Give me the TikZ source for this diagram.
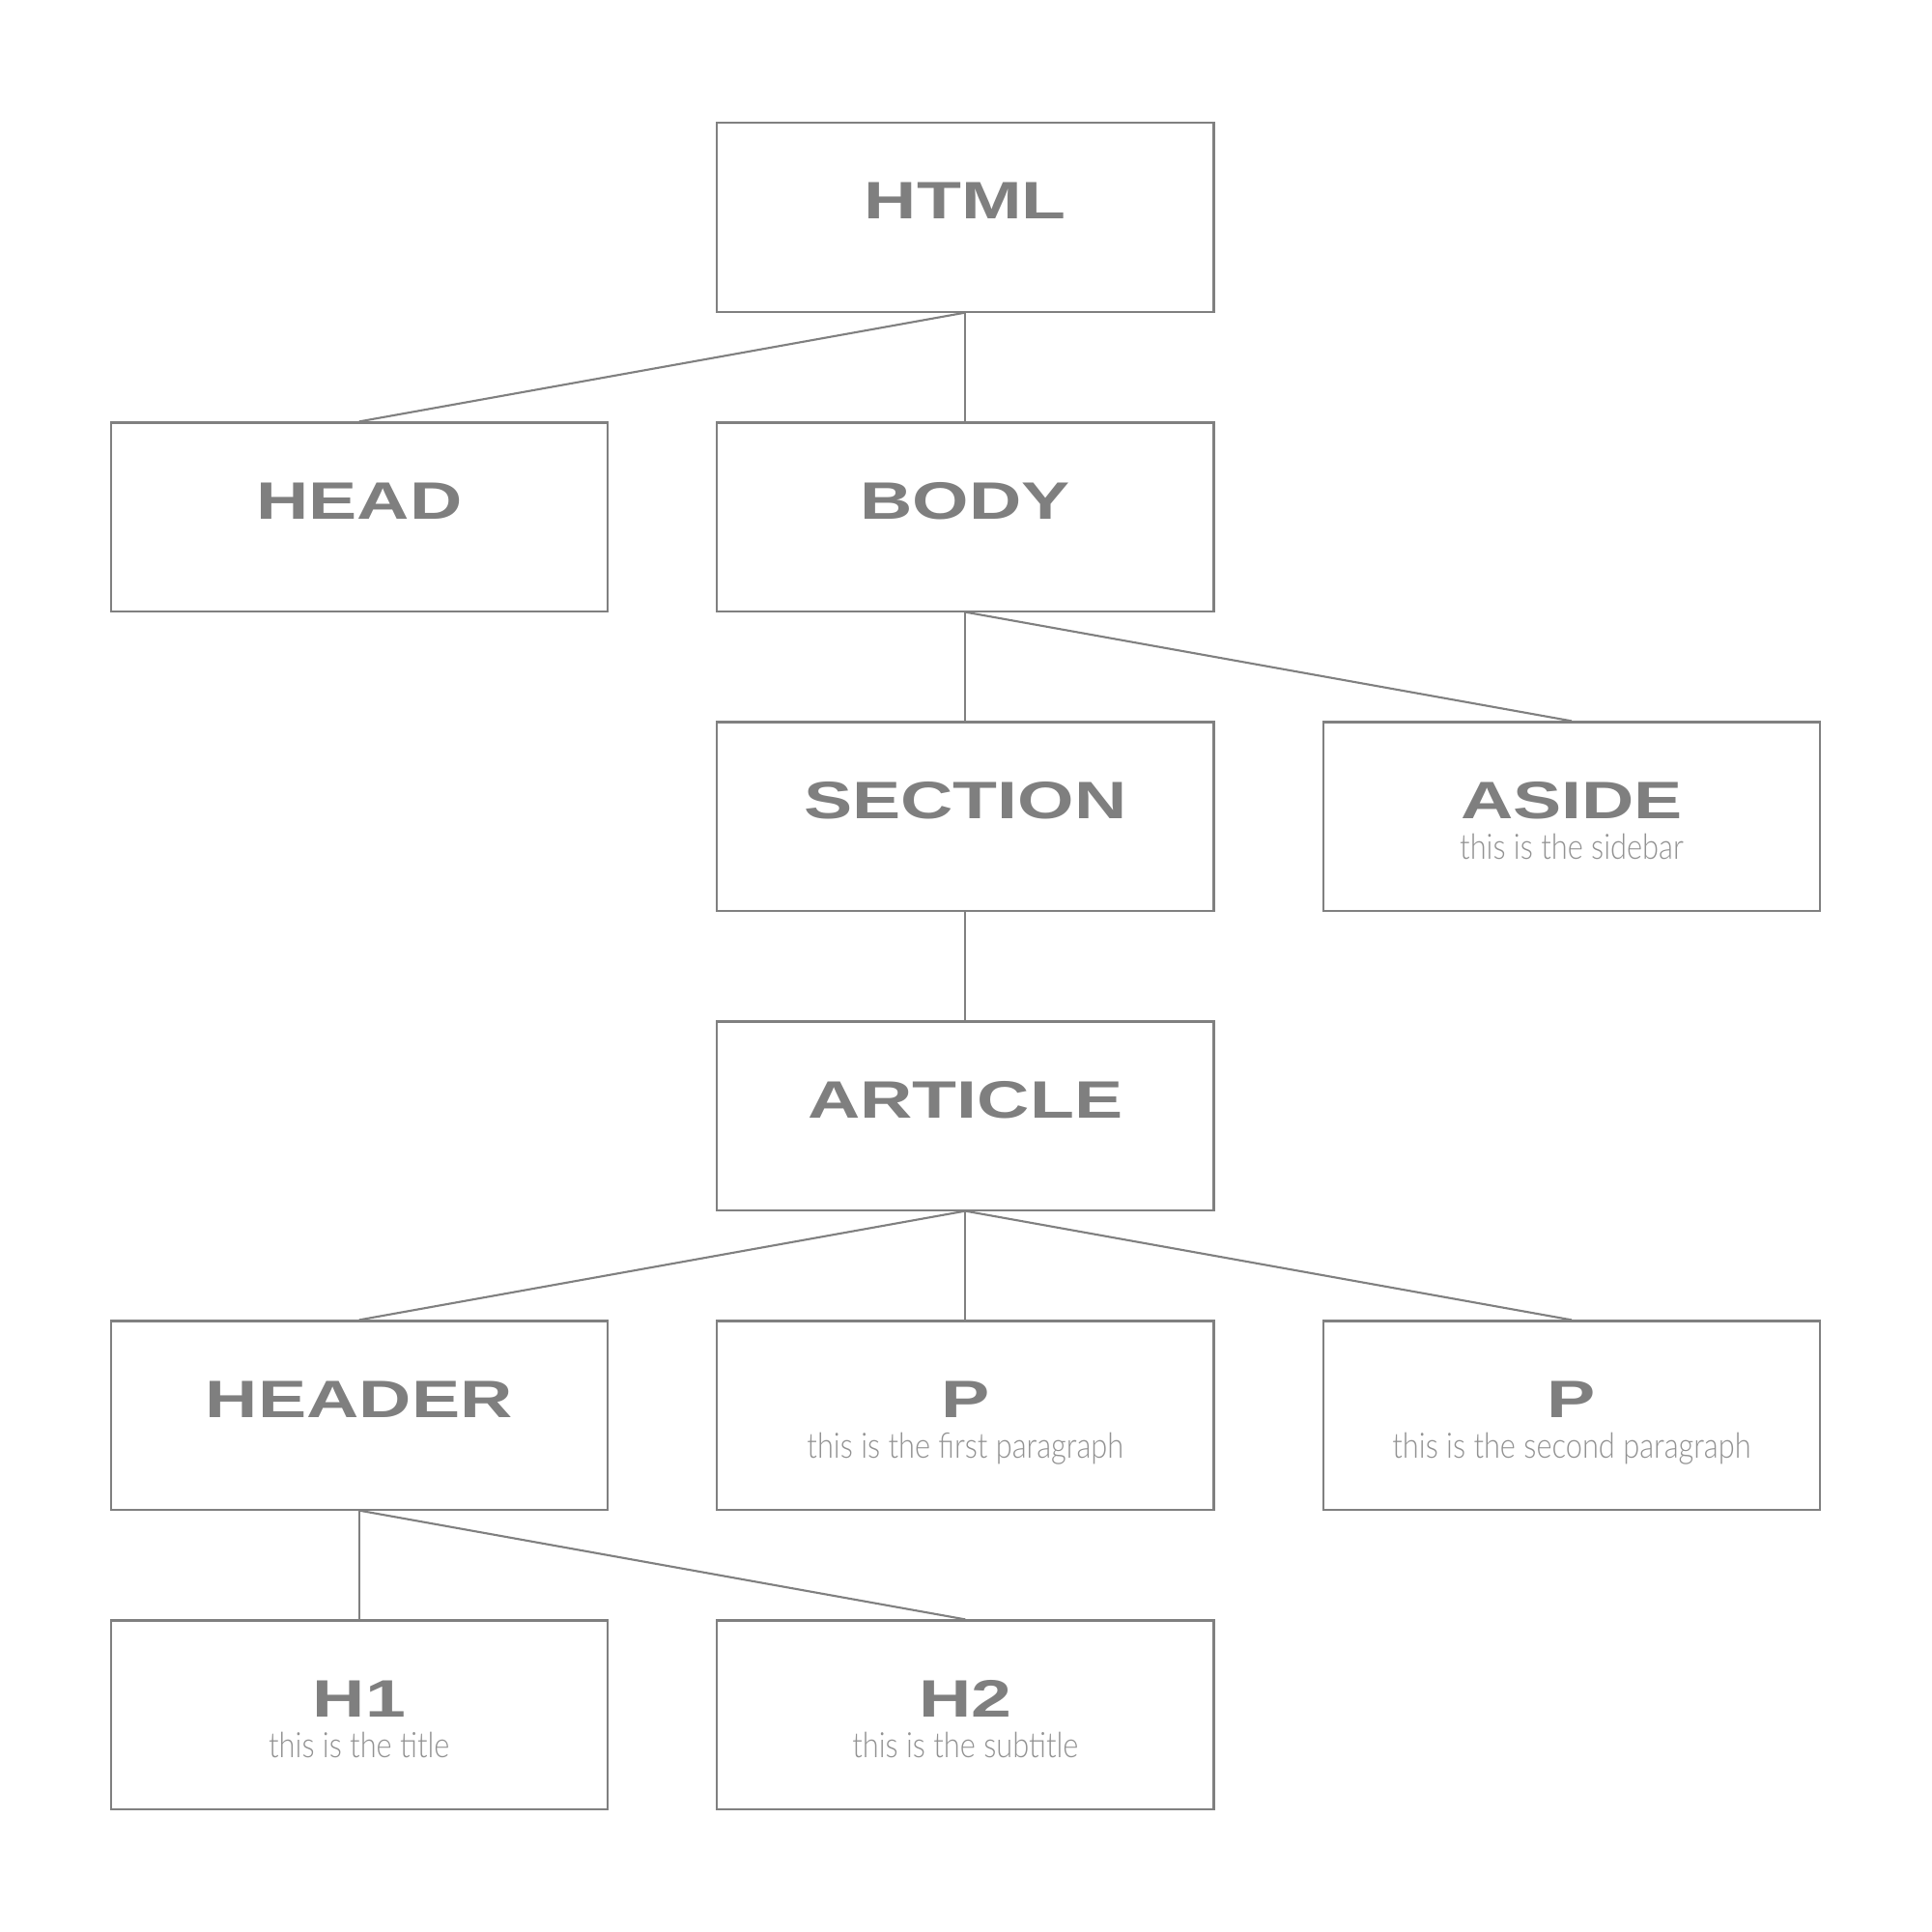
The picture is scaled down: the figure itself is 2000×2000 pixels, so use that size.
\documentclass[tikz,border=0pt]{standalone}
\usepackage{fontspec}
\newfontfamily\ttlfont{Liberation Sans}[FakeStretch=1.38]
\IfFontExistsTF{Lato Light}
  {\newfontfamily\subfont{Lato Light}[FakeStretch=0.85]}
  {\newfontfamily\subfont{Lato}[FakeStretch=0.85]}
\definecolor{ln}{HTML}{808080}
\definecolor{tt}{HTML}{7F7F7F}
\definecolor{st}{HTML}{929292}
\begin{document}
\begin{tikzpicture}[x=0.01cm,y=-0.01cm,
  box/.style={draw=ln, line width=0.6pt, minimum width=5.14cm, minimum height=1.95cm, inner sep=0pt},
  ttl/.style={font=\ttlfont\bfseries\fontsize{15.5}{16}\selectfont, text=tt, anchor=base},
  sub/.style={font=\subfont\fontsize{10.3}{12}\selectfont, text=st, anchor=base},
  conn/.style={draw=ln, line width=0.6pt}]
\useasboundingbox (0,0) rectangle (2000,2000);
\fill[white] (0,0) rectangle (2000,2000);
% boxes
\node[box] (html) at (999.3,225) {};
\node[box] (head) at (371.8,535) {};
\node[box] (body) at (999.3,535) {};
\node[box] (section) at (999.3,845) {};
\node[box] (aside) at (1627,845) {};
\node[box] (article) at (999.3,1155) {};
\node[box] (header) at (371.8,1465) {};
\node[box] (p1) at (999.3,1465) {};
\node[box] (p2) at (1627,1465) {};
\node[box] (h1) at (371.8,1775) {};
\node[box] (h2) at (999.3,1775) {};
% titles
\foreach \n/\t in {html/HTML,head/HEAD,body/BODY,section/SECTION,aside/ASIDE,article/ARTICLE,header/HEADER,p1/P,p2/P,h1/H1,h2/H2}{
  \node[ttl] (\n-t) at ([yshift=-0.02cm]\n.center) {\t};
}
% subtitles
\node[sub] (aside-s) at ([yshift=-0.44cm]aside.center) {this is the sidebar};
\node[sub] (p1-s) at ([yshift=-0.44cm]p1.center) {this is the first paragraph};
\node[sub] (p2-s) at ([yshift=-0.44cm]p2.center) {this is the second paragraph};
\node[sub] (h1-s) at ([yshift=-0.44cm]h1.center) {this is the title};
\node[sub] (h2-s) at ([yshift=-0.44cm]h2.center) {this is the subtitle};
% connectors
\draw[conn] (html.south) -- (head.north);
\draw[conn] (html.south) -- (body.north);
\draw[conn] (body.south) -- (section.north);
\draw[conn] (body.south) -- (aside.north);
\draw[conn] (section.south) -- (article.north);
\draw[conn] (article.south) -- (header.north);
\draw[conn] (article.south) -- (p1.north);
\draw[conn] (article.south) -- (p2.north);
\draw[conn] (header.south) -- (h1.north);
\draw[conn] (header.south) -- (h2.north);
\end{tikzpicture}
\end{document}
